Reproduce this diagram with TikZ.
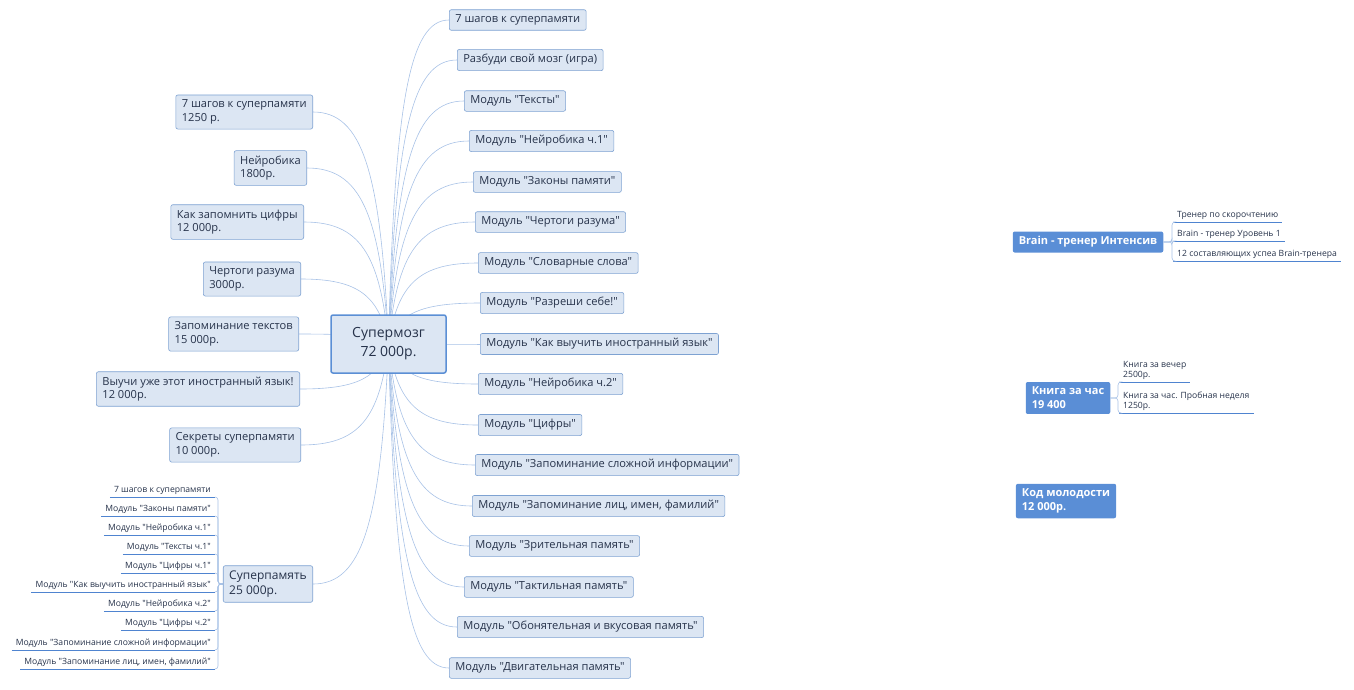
\documentclass[tikz,border=0pt]{standalone}
\usepackage{fontspec}
\setmainfont{Open Sans}[Ligatures=TeXOff]
\usetikzlibrary{calc,backgrounds}
\definecolor{bfill}{HTML}{DCE6F3}
\definecolor{bdraw}{HTML}{7EA2D2}
\definecolor{cdraw}{HTML}{5B8FD5}
\definecolor{lnk}{HTML}{A8C2E6}
\definecolor{txt}{HTML}{26324A}
\definecolor{solid}{HTML}{5A8ED6}
\definecolor{ul}{HTML}{4F84D0}
\newcommand{\q}{\symbol{34}}
\tikzset{
 x=1pt,y=-1pt,
 box/.style={draw=bdraw,fill=bfill,rounded corners=2pt,text=txt,font=\fontsize{11.1}{13.5}\selectfont,inner xsep=6pt,inner ysep=5pt,line width=0.6pt},
 lbox/.style={box,align=left,anchor=east},
 rbox/.style={box,anchor=west},
 sbox/.style={fill=solid,rounded corners=2pt,text=white,font=\fontsize{11}{14}\bfseries\selectfont,inner xsep=6pt,inner ysep=5pt,align=left},
 small/.style={text=txt,font=\fontsize{8.6}{10.5}\selectfont,inner xsep=4pt,inner ysep=2pt,align=left},
 link/.style={draw=lnk,line width=0.6pt},
 uline/.style={draw=ul,line width=0.9pt},
}
\newcommand{\ulnode}[1]{\draw[uline] (#1.south west)--(#1.south east);}
\newcommand{\mylink}[2]{\draw[link] let \p1=(#1),\p2=(#2) in (\p1) .. controls ($(\x1+0.1*\x2-0.1*\x1,\y1+0.75*\y2-0.75*\y1)$) and ($(\x1+0.35*\x2-0.35*\x1,\y2)$) .. (\p2);}
\begin{document}
\begin{tikzpicture}
\useasboundingbox (0,0) rectangle (1354,689);
\node[box,draw=cdraw,line width=1.5pt,align=center,font=\fontsize{14}{19}\selectfont,minimum width=115pt,minimum height=58pt] (c) at (388.5,344) {Супермозг\\72 000р.};
% right children
\foreach \nm/\xx/\yy/\tt in {r1/449/20/{7 шагов к суперпамяти},r2/457/60/{Разбуди свой мозг (игра)},r3/464/101/{Модуль \q{}Тексты\q},r4/469/141/{Модуль \q{}Нейробика ч.1\q},r5/473/182/{Модуль \q{}Законы памяти\q},r6/475/222/{Модуль \q{}Чертоги разума\q},r7/478/263/{Модуль \q{}Словарные слова\q},r8/480/303/{Модуль \q{}Разреши себе!\q},r9/480/344/{Модуль \q{}Как выучить иностранный язык\q},r10/478/384/{Модуль \q{}Нейробика ч.2\q},r11/478/425/{Модуль \q{}Цифры\q},r12/475/465/{Модуль \q{}Запоминание сложной информации\q},r13/472/506/{Модуль \q{}Запоминание лиц, имен, фамилий\q},r14/469/546/{Модуль \q{}Зрительная память\q},r15/464/587/{Модуль \q{}Тактильная память\q},r16/457/627/{Модуль \q{}Обонятельная и вкусовая память\q},r17/449/668/{Модуль \q{}Двигательная память\q}}{
 \node[rbox] (\nm) at (\xx,\yy) {\tt};
 \begin{pgfonlayer}{background}\mylink{c.center}{\nm.west}\end{pgfonlayer}
}
% left children
\foreach \nm/\xx/\yy/\tt in {l1/313/112/{7 шагов к суперпамяти\\1250 р.},l2/307/168/{Нейробика\\1800р.},l3/304/222/{Как запомнить цифры\\12 000р.},l4/301/279/{Чертоги разума\\3000р.},l5/299/334/{Запоминание текстов\\15 000р.},l6/300/389/{Выучи уже этот иностранный язык!\\12 000р.},l7/301/445/{Секреты суперпамяти\\10 000р.}}{
 \node[lbox] (\nm) at (\xx,\yy) {\tt};
 \begin{pgfonlayer}{background}\mylink{c.center}{\nm.east}\end{pgfonlayer}
}
\node[lbox,font=\fontsize{12}{15}\selectfont] (sp) at (313,584) {Суперпамять\\25 000р.};
\begin{pgfonlayer}{background}\mylink{c.center}{sp.east}\end{pgfonlayer}
\coordinate (spj) at (218,584);
\foreach \nm/\yy/\tt in {s1/497/{7 шагов к суперпамяти},s2/516/{Модуль \q{}Законы памяти\q},s3/535/{Модуль \q{}Нейробика ч.1\q},s4/554/{Модуль \q{}Тексты ч.1\q},s5/573/{Модуль \q{}Цифры ч.1\q},s6/592/{Модуль \q{}Как выучить иностранный язык\q},s7/611/{Модуль \q{}Нейробика ч.2\q},s8/630/{Модуль \q{}Цифры ч.2\q},s9/650/{Модуль \q{}Запоминание сложной информации\q},s10/669/{Модуль \q{}Запоминание лиц, имен, фамилий\q}}{
 \node[small,anchor=south east] (\nm) at (215,\yy) {\tt};
 \ulnode{\nm}
 \draw[link,rounded corners=3pt] (sp.west) -- (spj) |- (\nm.south east);
}
% right groups
\node[sbox] (b) at (1088,242) {Brain - тренер Интенсив};
\coordinate (bj) at (1172,242);
\foreach \nm/\yy/\tt in {b1/222/{Тренер по скорочтению},b2/241/{Brain - тренер Уровень 1},b3/261/{12 составляющих успеа Brain-тренера}}{
 \node[small,anchor=south west] (\nm) at (1173,\yy) {\tt};
 \ulnode{\nm}
 \draw[link,rounded corners=3pt] (b.east) -- (bj) |- (\nm.south west);
}
\node[sbox] (k) at (1068,398) {Книга за час\\19 400};
\coordinate (kj) at (1118,398);
\foreach \nm/\yy/\tt in {k1/382/{Книга за вечер\\2500р.},k2/413/{Книга за час. Пробная неделя\\1250р.}}{
 \node[small,anchor=south west] (\nm) at (1119,\yy) {\tt};
 \ulnode{\nm}
 \draw[link,rounded corners=3pt] (k.east) -- (kj) |- (\nm.south west);
}
\node[sbox] (m) at (1066,501) {Код молодости\\12 000р.};
\end{tikzpicture}
\end{document}
